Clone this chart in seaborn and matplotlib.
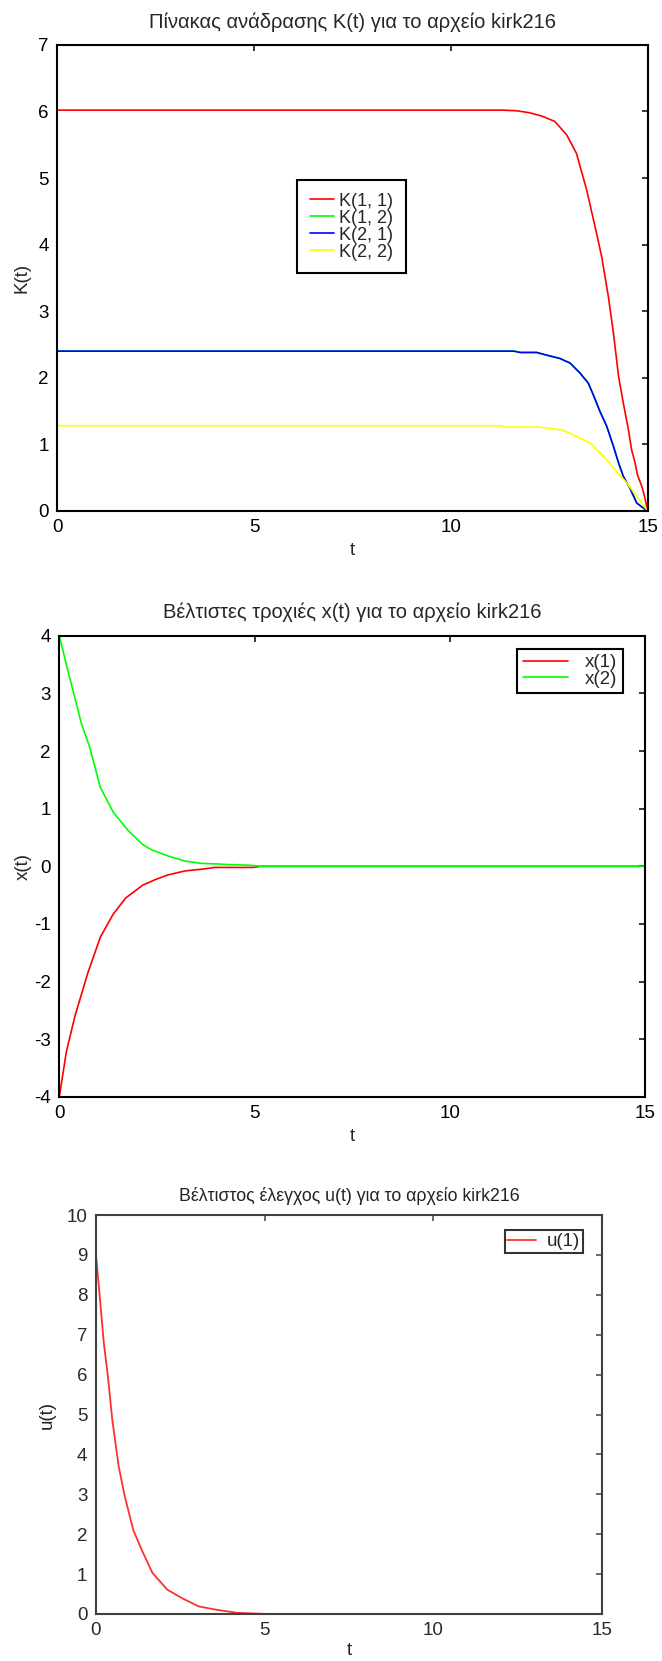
import pandas as pd
import matplotlib
matplotlib.use("Agg")
import matplotlib.pyplot as plt
from matplotlib import font_manager
import seaborn as sns

# K(t) feedback gains
k11_t = [0, 11.3, 11.67, 12.0, 12.31, 12.64, 12.94, 13.19, 13.45, 13.70, 13.83, 14.0,
         14.13, 14.26, 14.38, 14.51, 14.59, 14.68, 14.74, 14.85, 14.92, 15.0]
k11 = [6.02, 6.02, 6.01, 5.98, 5.93, 5.85, 5.65, 5.37, 4.82, 4.17, 3.82, 3.22,
       2.67, 2.02, 1.62, 1.22, 0.92, 0.72, 0.54, 0.37, 0.22, 0.0]
k12_t = [0, 11.6, 11.76, 12.18, 12.43, 12.77, 13.03, 13.28, 13.49, 13.62, 13.79, 13.96,
         14.13, 14.26, 14.38, 14.55, 14.72, 14.85, 15.0]
k12 = [2.40, 2.40, 2.38, 2.38, 2.34, 2.29, 2.22, 2.07, 1.92, 1.74, 1.49, 1.27,
       0.97, 0.72, 0.52, 0.34, 0.12, 0.06, 0.0]
k21_t = k12_t
k21 = k12
k22_t = [0, 11.3, 11.35, 12.2, 12.5, 12.85, 13.11, 13.53, 13.79, 14.0, 14.21, 14.47, 14.72, 15.0]
k22 = [1.28, 1.28, 1.26, 1.26, 1.24, 1.21, 1.14, 1.02, 0.87, 0.74, 0.59, 0.42, 0.22, 0.0]

# optimal trajectories
x1_t = [0, 0.18, 0.29, 0.40, 0.73, 1.05, 1.38, 1.70, 2.13, 2.46, 2.78, 3.22, 3.65,
        3.98, 4.5, 4.95, 5.17, 15]
x1 = [-4, -3.22, -2.91, -2.60, -1.85, -1.23, -0.83, -0.55, -0.33, -0.23, -0.15, -0.08,
      -0.05, -0.02, -0.02, -0.02, 0, 0]
x2_t = [0, 0.22, 0.35, 0.56, 0.78, 1.05, 1.38, 1.75, 2.13, 2.35, 2.78, 3.22, 3.65,
        4.08, 4.3, 4.84, 5.17, 15]
x2 = [4, 3.39, 3.05, 2.49, 2.06, 1.37, 0.94, 0.63, 0.38, 0.29, 0.18, 0.09, 0.05,
      0.04, 0.03, 0.02, 0, 0]

# optimal control
u_t = [0, 0.11, 0.24, 0.36, 0.49, 0.68, 0.86, 1.11, 1.36, 1.68, 2.12, 2.55, 3.05,
       3.55, 4.18, 5.06, 15]
u1 = [9.07, 8.05, 6.79, 5.96, 4.87, 3.70, 2.95, 2.11, 1.61, 1.03, 0.61, 0.40, 0.19,
      0.11, 0.03, 0, 0]

k_labels = ["K(1, 1)", "K(1, 2)", "K(2, 1)", "K(2, 2)"]
x_labels = ["x(1)", "x(2)"]
u_labels = ["u(1)"]


def style_axes(ax, xticks, yticks, ylim, edge="black", fs=13.5, family="Liberation Sans"):
    ax.set_xlim(0, 15)
    ax.set_ylim(*ylim)
    ax.set_xticks(xticks)
    ax.set_yticks(yticks)
    ax.tick_params(direction="in", length=4.3, width=1.1, top=True, right=True,
                   labelsize=fs, pad=6, colors=edge,
                   labelcolor="black" if edge == "black" else "#2a2a2a")
    for lab in ax.get_xticklabels() + ax.get_yticklabels():
        lab.set_family(family)
    for sp in ax.spines.values():
        sp.set_visible(True)
        sp.set_color(edge)
        sp.set_linewidth(1.5)


def main():
    sns.set_style("white")
    plt.rcParams["font.family"] = ["Liberation Sans", "DejaVu Sans"]
    plt.rcParams["axes.unicode_minus"] = False
    names = {f.name for f in font_manager.fontManager.ttflist}
    narrow = "Liberation Sans Narrow" if "Liberation Sans Narrow" in names else "Liberation Sans"

    fig = plt.figure(figsize=(6.62, 16.61), dpi=100)
    ax1 = fig.add_axes([0.0866, 0.6924, 0.8918, 0.2806])
    ax2 = fig.add_axes([0.0896, 0.3397, 0.8850, 0.2775])
    ax3 = fig.add_axes([0.1446, 0.0283, 0.7650, 0.2402])

    # panel 1
    series = [(k11_t, k11, "#ff0000"), (k12_t, k12, "#00ff00"),
              (k21_t, k21, "#0000ff"), (k22_t, k22, "#ffff00")]
    for (tt, vv, col), lab in zip(series, k_labels):
        sns.lineplot(x=tt, y=vv, ax=ax1, color=col, lw=1.2, label=lab, estimator=None)
    style_axes(ax1, [0, 5, 10, 15], range(0, 8), (0, 7))
    ax1.set_title("Πίνακας ανάδρασης K(t) για το αρχείο kirk216", fontsize=14.5, pad=12)
    ax1.set_xlabel("t", fontsize=13.5, labelpad=4)
    ax1.set_ylabel("K(t)", fontsize=13.5, labelpad=6)
    ax1.legend(loc="upper left", bbox_to_anchor=(0.406, 0.710), borderaxespad=0,
               fontsize=13, labelspacing=0.0, handlelength=1.35, handletextpad=0.3,
               borderpad=0.7, fancybox=False, framealpha=1,
               edgecolor="black").get_frame().set_linewidth(1.5)

    # panel 2
    for tt, vv, col, lab in [(x1_t, x1, "#ff0000", x_labels[0]), (x2_t, x2, "#00ff00", x_labels[1])]:
        sns.lineplot(x=tt, y=vv, ax=ax2, color=col, lw=1.2, label=lab, estimator=None)
    style_axes(ax2, [0, 5, 10, 15], range(-4, 5), (-4, 4))
    ax2.set_title("Βέλτιστες τροχιές x(t) για το αρχείο kirk216", fontsize=14.5, pad=12.5)
    ax2.set_xlabel("t", fontsize=13.5, labelpad=4)
    ax2.set_ylabel("x(t)", fontsize=13.5, labelpad=2)
    ax2.legend(loc="upper right", bbox_to_anchor=(0.962, 0.972), borderaxespad=0,
               fontsize=13.5, labelspacing=-0.05, handlelength=2.4, handletextpad=0.9,
               borderpad=0.3, fancybox=False, framealpha=1,
               edgecolor="black").get_frame().set_linewidth(1.5)

    # panel 3
    sns.lineplot(x=u_t, y=u1, ax=ax3, color="#ff3030", lw=1.3, label=u_labels[0], estimator=None)
    style_axes(ax3, [0, 5, 10, 15], range(0, 11), (0, 10), edge="#404040", fs=13.5, family=narrow)
    ax3.set_title("Βέλτιστος έλεγχος u(t) για το αρχείο kirk216", fontsize=12.8, pad=10,
                  family=[narrow, "DejaVu Sans"], color="#222222")
    ax3.set_xlabel("t", fontsize=13.5, labelpad=2, family=narrow, color="#222222")
    ax3.set_ylabel("u(t)", fontsize=13.5, labelpad=8, family=narrow, color="#222222")
    leg3 = ax3.legend(loc="upper right", bbox_to_anchor=(0.962, 0.962), borderaxespad=0,
                      prop={"family": narrow, "size": 13.5}, handlelength=1.5, handletextpad=0.6,
                      borderpad=0.15, fancybox=False, framealpha=1, edgecolor="#333333")
    leg3.get_frame().set_linewidth(1.5)

    fig.savefig("out.png", dpi=100)
    plt.close(fig)


if __name__ == "__main__":
    main()
